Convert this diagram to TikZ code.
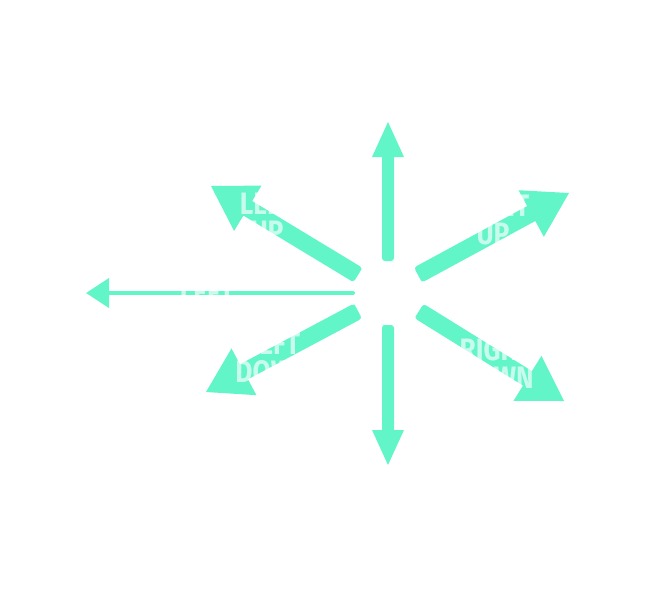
\documentclass[tikz,border=0pt]{standalone}
\usepackage{fontspec}
\newfontfamily\labfont{Fira Sans}
\usetikzlibrary{arrows.meta,calc}
\definecolor{mint}{RGB}{98,245,200}
\tikzset{
  fatfill/.style={fill=mint},
  thinarrow/.style={draw=mint, fill=mint, line width=4pt, line cap=round,
    -{Triangle[length=23pt,width=29pt]}},
  lab/.style={text=white, text opacity=0.65, align=center, inner sep=0pt,
    font=\labfont\bfseries\fontsize{31}{28}\selectfont}
}
% #1 start, #2 tip, #3 half shaft width, #4 head length, #5 half head width
\newcommand{\fatarrow}[5]{%
  \fill[fatfill] let \p1=($(#2)-(#1)$), \n1={atan2(\y1,\x1)},
    \n2={veclen(\x1,\y1)} in [shift={(#1)}, rotate=\n1]
    (0,0) -- (0,#3) [rounded corners=3pt] -- (0,-#3) [sharp corners]
    -- ({\n2-#4},-#3) -- ({\n2-#4},-#5) -- (\n2,0) -- ({\n2-#4},#5)
    -- ({\n2-#4},#3) [rounded corners=3pt] -- (0,#3) [sharp corners] -- cycle;}
\newcommand{\cond}[1]{\scalebox{0.85}[1]{#1}}
\begin{document}
\begin{tikzpicture}[x=1pt,y=-1pt]
\useasboundingbox (0,0) rectangle (660,590);
\coordinate (uls) at (358,275); \coordinate (ult) at (211,186);
\coordinate (urs) at (418,275); \coordinate (urt) at (569,193);
\coordinate (dls) at (358,311); \coordinate (dlt) at (206,392);
\coordinate (drs) at (419,311); \coordinate (drt) at (564,401);
\coordinate (us) at (388,261); \coordinate (ut) at (388,122);
\coordinate (ds) at (388,325); \coordinate (dt) at (388,465);
\coordinate (ls) at (353,293); \coordinate (lt) at (86,293);
\fatarrow{us}{ut}{6}{35}{16}
\fatarrow{ds}{dt}{6}{35}{16}
\fatarrow{uls}{ult}{8.5}{43}{26.5}
\fatarrow{urs}{urt}{8.5}{43}{26.5}
\fatarrow{dls}{dlt}{8.5}{43}{26.5}
\fatarrow{drs}{drt}{8.5}{43}{26.5}
\draw[thinarrow] (ls) -- (lt);
\node[lab] (lul) at (267,218) {\cond{LEFT}\\\cond{UP}};
\node[lab] (lur) at (493,220) {\cond{RIGHT}\\\cond{UP}};
\node[lab] (ldl) at (273,358) {\cond{LEFT}\\\cond{DOWN}};
\node[lab] (ldr) at (496,364) {\cond{RIGHT}\\\cond{DOWN}};
\node[lab] (ll) at (207,293) {\cond{LEFT}};
\end{tikzpicture}
\end{document}
